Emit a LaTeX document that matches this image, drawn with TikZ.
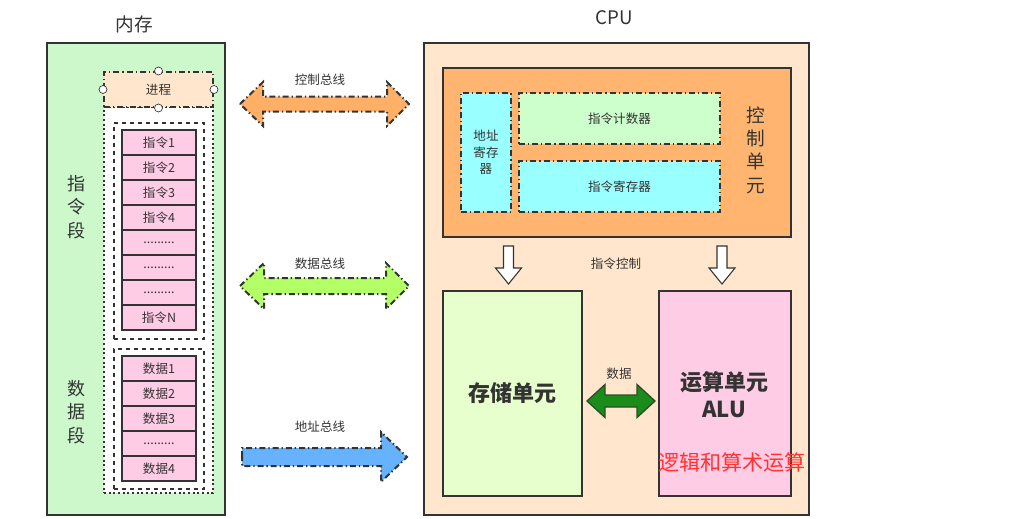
\documentclass[tikz,border=0pt]{standalone}
\usepackage{fontspec}
\setmainfont{Noto Sans CJK SC}
\usetikzlibrary{calc}
\usetikzlibrary{fit}

\definecolor{linegray}{HTML}{333333}
\definecolor{textgray}{HTML}{333333}
\definecolor{memgreen}{HTML}{CCF8CC}
\definecolor{peach}{HTML}{FFE6CC}
\definecolor{cellpink}{HTML}{FFCCE6}
\definecolor{cuorange}{HTML}{FFB570}
\definecolor{regcyan}{HTML}{99FFFF}
\definecolor{pcgreen}{HTML}{CCFFCC}
\definecolor{storegreen}{HTML}{E6FFCC}
\definecolor{busorange}{HTML}{FFB066}
\definecolor{buslime}{HTML}{B3FF66}
\definecolor{busblue}{HTML}{66B2FF}
\definecolor{datagreen}{HTML}{1A8C1A}
\definecolor{alured}{HTML}{FF3333}

\begin{document}
\begin{tikzpicture}[x=0.75pt,y=-0.75pt]
				\tikzstyle{box}=[draw=linegray,line width=1.5pt,inner sep=0pt]
				\tikzstyle{dashdot}=[dash pattern=on 4.5pt off 2.2pt on 1pt off 2.2pt]
				\tikzstyle{cell}=[box,fill=cellpink,minimum width=55.5pt,minimum height=18.75pt,text=textgray,font=\fontsize{9.4}{11}\selectfont]
				\tikzstyle{small}=[text=textgray,font=\fontsize{9.4}{12}\selectfont,align=center]
				\tikzstyle{handle}=[circle,draw=linegray,fill=white,line width=0.5pt,minimum size=6pt,inner sep=0pt]
				\tikzstyle{bus}=[draw=linegray,line width=1.5pt,dashdot,line join=miter]

				\useasboundingbox (0,0) rectangle (1025,518);

				% memory
				\node [text=textgray,font=\fontsize{14}{16}\selectfont] (memtitle) at (134,24) {内存};
				\node [box,fill=memgreen,fit={(47,43) (225,515)}] (mem) {};
				\node [box,fill=white,dotted,fit={(104,107) (213,493)}] (procarea) {};
				\node [box,fill=peach,dashdot,fit={(104,72) (213,107)}] (proc) {};
				\node [small] (proclabel) at (proc.center) {进程};
				\node [handle] at (proc.north) {};
				\node [handle] at (proc.west) {};
				\node [handle] at (proc.east) {};
				\node [handle] at (proc.south) {};

				\node [box,dashed,fit={(114,123) (204,339)}] (instseg) {};
				\node [box,dashed,fit={(114,349) (204,489)}] (dataseg) {};

				\node [cell] (i1) at (159,142.5) {指令1};
				\node [cell] (i2) at (159,167.5) {指令2};
				\node [cell] (i3) at (159,192.5) {指令3};
				\node [cell] (i4) at (159,217.5) {指令4};
				\node [cell] (i5) at (159,242.5) {.........};
				\node [cell] (i6) at (159,267.5) {.........};
				\node [cell] (i7) at (159,292.5) {.........};
				\node [cell] (i8) at (159,317.5) {指令N};

				\node [cell] (d1) at (159,368.5) {数据1};
				\node [cell] (d2) at (159,393.5) {数据2};
				\node [cell] (d3) at (159,418.5) {数据3};
				\node [cell] (d4) at (159,443.5) {.........};
				\node [cell] (d5) at (159,468.5) {数据4};

				\node [text=textgray,font=\fontsize{13.5}{17.6}\selectfont,align=center] (instlabel) at (76,207) {指\\令\\段};
				\node [text=textgray,font=\fontsize{13.5}{17.6}\selectfont,align=center] (datalabel) at (76,412) {数\\据\\段};

				% buses
				\coordinate (ctrltail) at (240,104);
				\filldraw [bus,fill=busorange] (ctrltail) -- ++(23,-22) -- ++(0,14.5) -- ++(124,0) -- ++(0,-14.5)
				-- ++(22,22) -- ++(-22,22) -- ++(0,-14.5) -- ++(-124,0) -- ++(0,14.5) -- cycle;
				\node [small] (ctrlbus) at (320,80) {控制总线};

				\coordinate (datatail) at (240,286);
				\filldraw [bus,fill=buslime] (datatail) -- ++(24,-23) -- ++(0,15) -- ++(122,0) -- ++(0,-15)
				-- ++(23,23) -- ++(-23,23) -- ++(0,-15) -- ++(-122,0) -- ++(0,15) -- cycle;
				\node [small] (databus) at (320,264) {数据总线};

				\coordinate (addrtail) at (242,457);
				\filldraw [bus,fill=busblue] (addrtail) -- ++(0,-9) -- ++(139,0) -- ++(0,-16) -- ++(26,25)
				-- ++(-26,25) -- ++(0,-16) -- ++(-139,0) -- cycle;
				\node [small] (addrbus) at (320,427) {地址总线};

				% cpu
				\node [text=textgray,font=\fontsize{14}{16}\selectfont] (cputitle) at (614,18) {CPU};
				\node [box,fill=peach,fit={(424,43) (809,515)}] (cpu) {};
				\node [box,fill=cuorange,fit={(443,68) (791,237)}] (cu) {};
				\node [box,fill=regcyan,dashdot,fit={(461,93) (511,212)}] (areg) {};
				\node [small,font=\fontsize{9.4}{12.5}\selectfont] (areglabel) at (areg.center) {地址\\寄存\\器};
				\node [box,fill=pcgreen,dashdot,fit={(519,93) (720,144)}] (pc) {};
				\node [small] (pclabel) at (pc.center) {指令计数器};
				\node [box,fill=regcyan,dashdot,fit={(519,161) (720,212)}] (ir) {};
				\node [small] (irlabel) at (ir.center) {指令寄存器};
				\node [text=textgray,font=\fontsize{14}{17.5}\selectfont,align=center] (culabel) at (756,150) {控\\制\\单\\元};

				\node [box,fill=storegreen,fit={(443,291) (582,496)}] (store) {};
				\node [text=textgray,font=\bfseries\fontsize{16.5}{20}\selectfont] (storelabel) at (store.center) {存储单元};
				\node [box,fill=cellpink,fit={(659,291) (791,496)}] (alu) {};
				\node [text=textgray,font=\bfseries\fontsize{16.5}{20}\selectfont,align=center] (alulabel) at (724,394.5) {运算单元\\ALU};
				\node [text=alured,font=\fontsize{15.8}{18}\selectfont] (alunote) at (732,462) {逻辑和算术运算};

				% control arrows
				\coordinate (ctrl1) at ($(cu.south -| store.center) + (-4,8)$);
				\coordinate (ctrl2) at ($(cu.south -| alu.center) + (-3,8)$);
				\filldraw [draw=linegray,fill=white,line width=0.8pt] (ctrl1) ++(-5,0) -- ++(10,0) -- ++(0,22) -- ++(8,0)
				-- ++(-13,16) -- ++(-13,-16) -- ++(8,0) -- cycle;
				\filldraw [draw=linegray,fill=white,line width=0.8pt] (ctrl2) ++(-5,0) -- ++(10,0) -- ++(0,22) -- ++(8,0)
				-- ++(-13,16) -- ++(-13,-16) -- ++(8,0) -- cycle;
				\node [small] (ctrllabel) at (616,264) {指令控制};

				% data between store and alu
				\coordinate (dataleft) at ($(store.east |- 0,401) + (4,0)$);
				\filldraw [draw=linegray!70!datagreen,fill=datagreen,line width=1pt] (dataleft) -- ++(18,-16.5) -- ++(0,10.5)
				-- ++(32,0) -- ++(0,-10.5) -- ++(18,16.5) -- ++(-18,16.5) -- ++(0,-10.5) -- ++(-32,0) -- ++(0,10.5) -- cycle;
				\node [small] (datalink) at (619,374) {数据};

			\end{tikzpicture}
\end{document}
